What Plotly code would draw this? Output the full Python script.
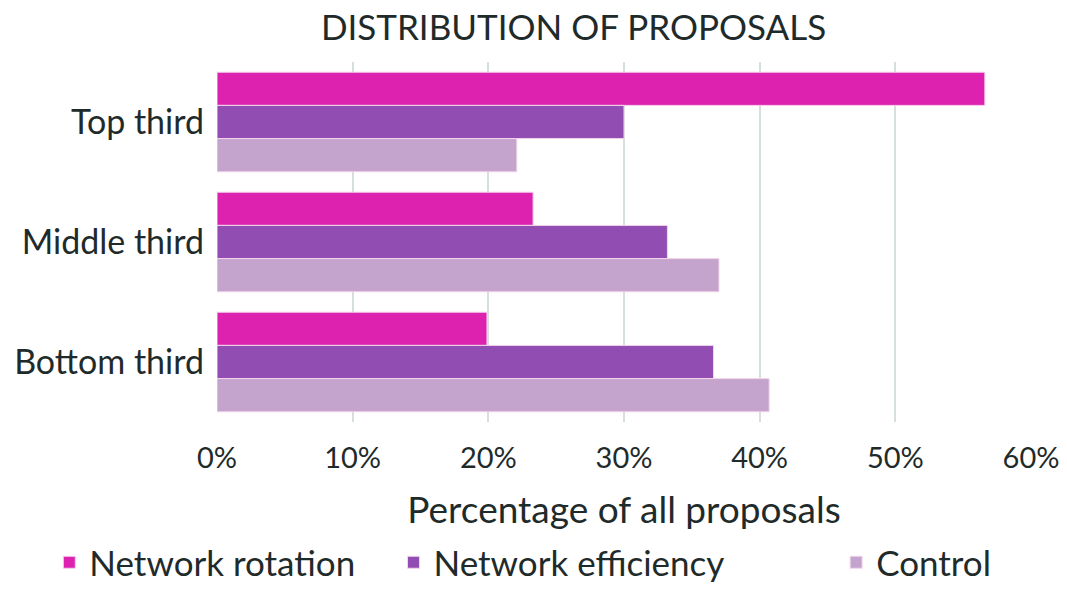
import plotly.graph_objects as go

categories = ["Top third", "Middle third", "Bottom third"]
rotation = [56.6, 23.3, 19.9]
efficiency = [30.0, 33.2, 36.6]
control = [22.1, 37.0, 40.7]
tick_vals = [0, 10, 20, 30, 40, 50, 60]
tick_text = ["0%", "10%", "20%", "30%", "40%", "50%", "60%"]

font_family = "Lato, 'Open Sans', sans-serif"
text_color = "#1f2b2b"

fig = go.Figure()
series = [
    ("Network rotation", rotation, "#DD22B0", "legend"),
    ("Network efficiency", efficiency, "#914DB1", "legend2"),
    ("Control", control, "#C4A4CC", "legend3"),
]
for name, vals, color, leg in series:
    fig.add_trace(go.Bar(
        y=categories, x=vals, name=name, orientation="h",
        marker=dict(color=color, line=dict(color="#f2d6ec", width=1)),
        legend=leg, showlegend=True,
    ))

# the page adds an 8px body margin, so the figure is drawn 8px smaller
W, H = 1059, 584

leg_common = dict(orientation="h", yref="container", yanchor="bottom", y=0.0,
                  xref="container", xanchor="left",
                  font=dict(size=35, color=text_color, family=font_family),
                  itemwidth=30, bgcolor="rgba(0,0,0,0)")

fig.update_layout(
    width=W, height=H,
    margin=dict(l=209, r=36, t=54, b=170, autoexpand=False),
    paper_bgcolor="white", plot_bgcolor="white",
    showlegend=True,
    barmode="group", bargap=0.17, bargroupgap=0,
    font=dict(family=font_family, color=text_color),
    title=dict(text="DISTRIBUTION OF PROPOSALS", x=0.534, xanchor="center",
               y=0.988, yanchor="top",
               font=dict(size=35, color=text_color, family=font_family)),
    legend=dict(x=0.039, **leg_common),
    legend2=dict(x=0.364, **leg_common),
    legend3=dict(x=0.782, **leg_common),
    xaxis=dict(range=[0, 60], tickvals=tick_vals, ticktext=tick_text,
               showgrid=True, gridcolor="#d6dfdd", gridwidth=1.5,
               zeroline=False, showline=False, ticks="", automargin=False,
               ticklabelstandoff=16,
               tickfont=dict(size=29, color=text_color),
               title=dict(text="Percentage of all proposals",
                          font=dict(size=37, color=text_color), standoff=24)),
    yaxis=dict(autorange="reversed", showgrid=False, ticks="", automargin=False,
               tickfont=dict(size=34, color=text_color), ticklabelstandoff=12),
)

fig.write_html("out.html")
